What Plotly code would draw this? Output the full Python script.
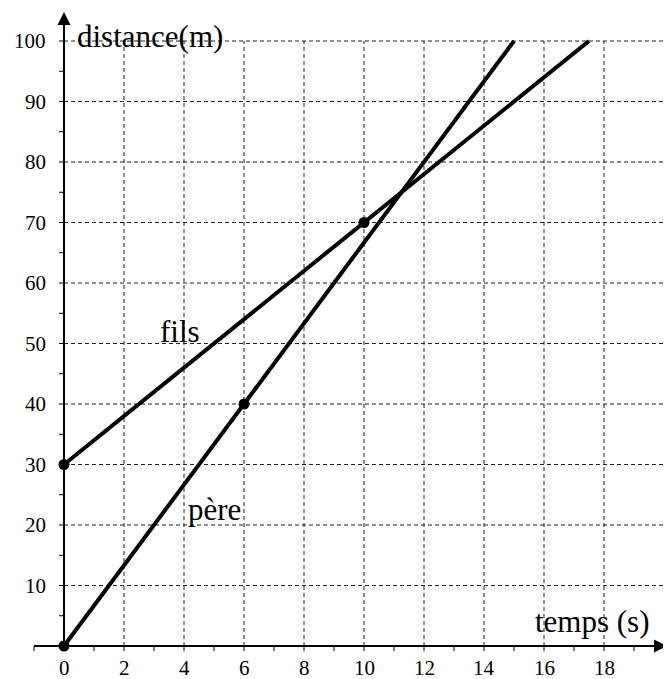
import plotly.graph_objects as go

# --- data ---
pere_x = [0, 15]
pere_y = [0, 100]
fils_x = [0, 17.5]
fils_y = [30, 100]
pts_x = [0, 6, 0, 10]
pts_y = [0, 40, 30, 70]
x_tick_vals = [0, 2, 4, 6, 8, 10, 12, 14, 16, 18]
x_tick_labels = ["0", "2", "4", "6", "8", "10", "12", "14", "16", "18"]
y_tick_vals = [10, 20, 30, 40, 50, 60, 70, 80, 90, 100]
y_tick_labels = ["10", "20", "30", "40", "50", "60", "70", "80", "90", "100"]
x_grid = [2, 4, 6, 8, 10, 12, 14, 16, 18, 20]
y_grid = [10, 20, 30, 40, 50, 60, 70, 80, 90, 100]
x_minor = list(range(-1, 20))
y_minor = list(range(5, 101, 5))

FONT = "Liberation Serif"
PX_X = 30.0
PX_Y = 6.05
OFF = 8  # page body margin

fig = go.Figure()

# grid
shapes = []
for gx in x_grid:
    shapes.append(dict(type="line", xref="x", yref="y", x0=gx, x1=gx, y0=0, y1=100,
                       line=dict(color="#222", width=1, dash="4px,3px"), layer="below"))
for gy in y_grid:
    shapes.append(dict(type="line", xref="x", yref="y", x0=0, x1=20, y0=gy, y1=gy,
                       line=dict(color="#222", width=1, dash="4px,3px"), layer="below"))

# ticks
tx, ty = [], []
for v in x_minor:
    tx += [v, v, None]
    ty += [0, -5 / PX_Y, None]
for v in y_minor:
    tx += [0, -5 / PX_X, None]
    ty += [v, v, None]
fig.add_trace(go.Scatter(x=tx, y=ty, mode="lines", line=dict(color="black", width=1),
                         hoverinfo="skip", showlegend=False))

# axes (lines with arrows)
fig.add_trace(go.Scatter(x=[-1, 19.7], y=[0, 0], mode="lines", line=dict(color="black", width=2),
                         showlegend=False, hoverinfo="skip"))
fig.add_trace(go.Scatter(x=[0, 0], y=[0, 104], mode="lines", line=dict(color="black", width=2),
                         showlegend=False, hoverinfo="skip"))

annotations = [
    dict(x=20.1, y=0, ax=19.0, ay=0, xref="x", yref="y", axref="x", ayref="y",
         text="", showarrow=True, arrowhead=2, arrowsize=1.3, arrowwidth=2, arrowcolor="black"),
    dict(x=0, y=104.8, ax=0, ay=98, xref="x", yref="y", axref="x", ayref="y",
         text="", showarrow=True, arrowhead=2, arrowsize=1.3, arrowwidth=2, arrowcolor="black"),
]

# data lines
fig.add_trace(go.Scatter(x=pere_x, y=pere_y, mode="lines", line=dict(color="black", width=4),
                         showlegend=False))
fig.add_trace(go.Scatter(x=fils_x, y=fils_y, mode="lines", line=dict(color="black", width=4),
                         showlegend=False))
fig.add_trace(go.Scatter(x=pts_x, y=pts_y, mode="markers", marker=dict(color="black", size=11),
                         showlegend=False))

# tick labels
for v, t in zip(x_tick_vals, x_tick_labels):
    annotations.append(dict(x=v, y=-3.7, xref="x", yref="y", text=t, showarrow=False,
                            font=dict(family=FONT, size=21, color="black")))
for v, t in zip(y_tick_vals, y_tick_labels):
    annotations.append(dict(x=-0.55, y=v, xref="x", yref="y", text=t, showarrow=False,
                            xanchor="right", font=dict(family=FONT, size=21, color="black")))

# text labels
annotations += [
    dict(x=0.35, y=100.8, xref="x", yref="y", text="distance(m)", showarrow=False, xanchor="left",
         font=dict(family=FONT, size=31, color="black")),
    dict(x=17.6, y=4.1, xref="x", yref="y", text="temps (s)", showarrow=False,
         font=dict(family=FONT, size=31, color="black")),
    dict(x=3.87, y=52.0, xref="x", yref="y", text="fils", showarrow=False,
         font=dict(family=FONT, size=31, color="black")),
    dict(x=5.0, y=22.5, xref="x", yref="y", text="père", showarrow=False,
         font=dict(family=FONT, size=31, color="black")),
]

W, H = 671 - OFF, 679 - OFF
fig.update_layout(
    width=W, height=H,
    margin=dict(l=0, r=0, t=0, b=0),
    paper_bgcolor="white", plot_bgcolor="white",
    xaxis=dict(visible=False, range=[-(64 - OFF) / PX_X, (W - (64 - OFF)) / PX_X]),
    yaxis=dict(visible=False, range=[-33 / PX_Y, (646 - OFF) / PX_Y]),
    shapes=shapes,
    annotations=annotations,
)

fig.write_html("out.html")
